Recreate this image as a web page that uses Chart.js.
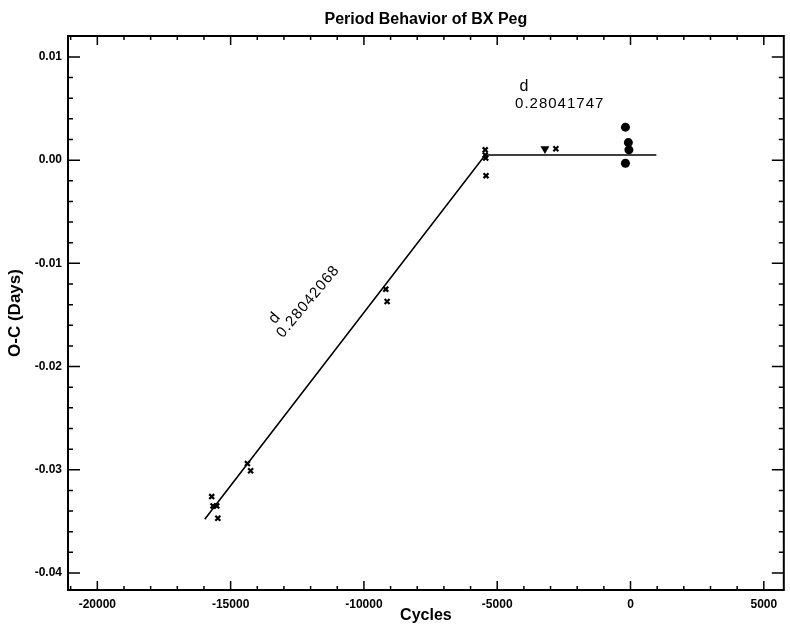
<!DOCTYPE html>
<html>
<head>
<meta charset="utf-8">
<title>Period Behavior of BX Peg</title>
<script src="https://cdn.jsdelivr.net/npm/chart.js@4.4.1/dist/chart.umd.min.js"></script>
<style>
  html, body { margin: 0; padding: 0; background: #fff; }
  #wrap { width: 790px; height: 629px; }
</style>
</head>
<body>
<div id="wrap"><canvas id="chart" width="790" height="629"></canvas></div>
<script>
const cycleTicks = [-20000, -15000, -10000, -5000, 0, 5000]
const ocTicks = [0.01, 0.0, -0.01, -0.02, -0.03, -0.04]

// observed minima (crosses / triangles)
const obsCycles = [-15710, -15660, -15520, -15480, -14370, -14250, -9180, -9130, -5450, -5450, -5430, -5420, -3210, -2800]
const obsOC = [-0.0326, -0.0335, -0.0335, -0.0347, -0.0294, -0.0301, -0.0125, -0.0137, 0.0010, 0.0005, 0.0002, -0.0015, 0.0011, 0.0011]

// recent minima (filled circles)
const newCycles = [-190, -80, -60, -190]
const newOC = [0.0032, 0.0017, 0.0010, -0.0003]

// two linear period fits
const fitCycles = [-15970, -5450, 970]
const fitOC = [-0.0348, 0.0005, 0.0005]

const periodLabels = ['0.28042068', '0.28041747']

const toPoints = (xs, ys) => xs.map((x, i) => ({ x: x, y: ys[i] }))

const inwardTicks = {
  id: 'inwardTicks',
  afterDraw(chart) {
    const ctx = chart.ctx
    const a = chart.chartArea
    const xs = chart.scales.x
    const ys = chart.scales.y
    ctx.save()
    ctx.strokeStyle = '#000'
    ctx.lineWidth = 2
    ctx.strokeRect(a.left, a.top, a.right - a.left, a.bottom - a.top)
    ctx.lineWidth = 1.5
    ctx.beginPath()
    for (let k = Math.ceil(xs.min / 1000); k * 1000 <= xs.max; k++) {
      const px = xs.getPixelForValue(k * 1000)
      const len = k % 5 === 0 ? 9 : 4
      ctx.moveTo(px, a.bottom); ctx.lineTo(px, a.bottom - len)
      ctx.moveTo(px, a.top); ctx.lineTo(px, a.top + len)
    }
    for (let k = Math.ceil(ys.min / 0.002); k * 0.002 <= ys.max + 1e-9; k++) {
      const py = ys.getPixelForValue(k * 0.002)
      const len = k % 5 === 0 ? 12 : 5
      ctx.moveTo(a.left, py); ctx.lineTo(a.left + len, py)
      ctx.moveTo(a.right, py); ctx.lineTo(a.right - len, py)
    }
    ctx.stroke()
    ctx.restore()
  }
}

const periodText = {
  id: 'periodText',
  afterDatasetsDraw(chart) {
    const ctx = chart.ctx
    const xs = chart.scales.x
    const ys = chart.scales.y
    ctx.save()
    ctx.fillStyle = '#000'
    ctx.font = '15px "Liberation Sans", Arial, sans-serif'
    ctx.letterSpacing = '1px'
    ctx.textBaseline = 'middle'

    // along the steep fit
    ctx.save()
    ctx.translate(xs.getPixelForValue(-12090), ys.getPixelForValue(-0.0137))
    ctx.rotate(-50 * Math.PI / 180)
    ctx.textAlign = 'center'
    ctx.fillText(periodLabels[0], 0, 0)
    ctx.font = '16px "Liberation Sans", Arial, sans-serif'
    ctx.fillText('d', -34, -15)
    ctx.restore()

    // above the flat fit
    ctx.textAlign = 'left'
    ctx.fillText(periodLabels[1], xs.getPixelForValue(-4330), ys.getPixelForValue(0.0055))
    ctx.font = '16px "Liberation Sans", Arial, sans-serif'
    ctx.fillText('d', xs.getPixelForValue(-4160), ys.getPixelForValue(0.0071))
    ctx.restore()
  }
}

Chart.defaults.color = '#000'
Chart.defaults.font.family = '"Liberation Sans", Arial, sans-serif'

new Chart(document.getElementById('chart').getContext('2d'), {
  type: 'scatter',
  data: {
    datasets: [
      {
        label: 'fit',
        data: toPoints(fitCycles, fitOC),
        showLine: true,
        borderColor: '#000',
        borderWidth: 1.6,
        pointRadius: 0,
        fill: false
      },
      {
        label: 'observed',
        data: toPoints(obsCycles, obsOC),
        pointStyle: obsCycles.map((x, i) => i === 12 ? 'triangle' : 'crossRot'),
        rotation: obsCycles.map((x, i) => i === 12 ? 180 : 0),
        pointRadius: obsCycles.map((x, i) => i === 12 ? 3 : 3.5),
        borderColor: '#000',
        backgroundColor: '#000',
        borderWidth: 2.2
      },
      {
        label: 'recent',
        data: toPoints(newCycles, newOC),
        pointStyle: 'circle',
        pointRadius: 4.5,
        borderColor: '#000',
        backgroundColor: '#000',
        borderWidth: 0
      }
    ]
  },
  options: {
    responsive: false,
    animation: false,
    layout: { padding: { left: 0, right: 2, top: 0, bottom: 0 } },
    plugins: {
      legend: { display: false },
      tooltip: { enabled: false },
      title: {
        display: true,
        fullSize: false,
        text: 'Period Behavior of BX Peg',
        font: { size: 16, weight: 'bold' },
        padding: { top: 10, bottom: 6.8 }
      }
    },
    scales: {
      x: {
        type: 'linear',
        min: -21100,
        max: 5750,
        grid: { display: false, drawTicks: false },
        border: { display: false },
        afterBuildTicks: (s) => { s.ticks = cycleTicks.map((v) => ({ value: v })) },
        afterFit: (s) => { s.height = 39 },
        ticks: {
          padding: 7,
          maxRotation: 0,
          autoSkip: false,
          font: { size: 12, weight: 'bold' },
          callback: (v) => String(v)
        },
        title: {
          display: true,
          text: 'Cycles',
          font: { size: 16, weight: 'bold' },
          padding: { top: 0, bottom: 4 }
        }
      },
      y: {
        type: 'linear',
        min: -0.04165,
        max: 0.01203,
        grid: { display: false, drawTicks: false },
        border: { display: false },
        afterBuildTicks: (s) => { s.ticks = ocTicks.map((v) => ({ value: v })) },
        afterFit: (s) => { s.width = 68 },
        ticks: {
          padding: 6,
          autoSkip: false,
          font: { size: 12, weight: 'bold' },
          callback: (v) => v.toFixed(2)
        },
        title: {
          display: true,
          text: 'O-C (Days)',
          font: { size: 17, weight: 'bold' },
          padding: { top: 5, bottom: 0 }
        }
      }
    }
  },
  plugins: [inwardTicks, periodText]
})
</script>
</body>
</html>
